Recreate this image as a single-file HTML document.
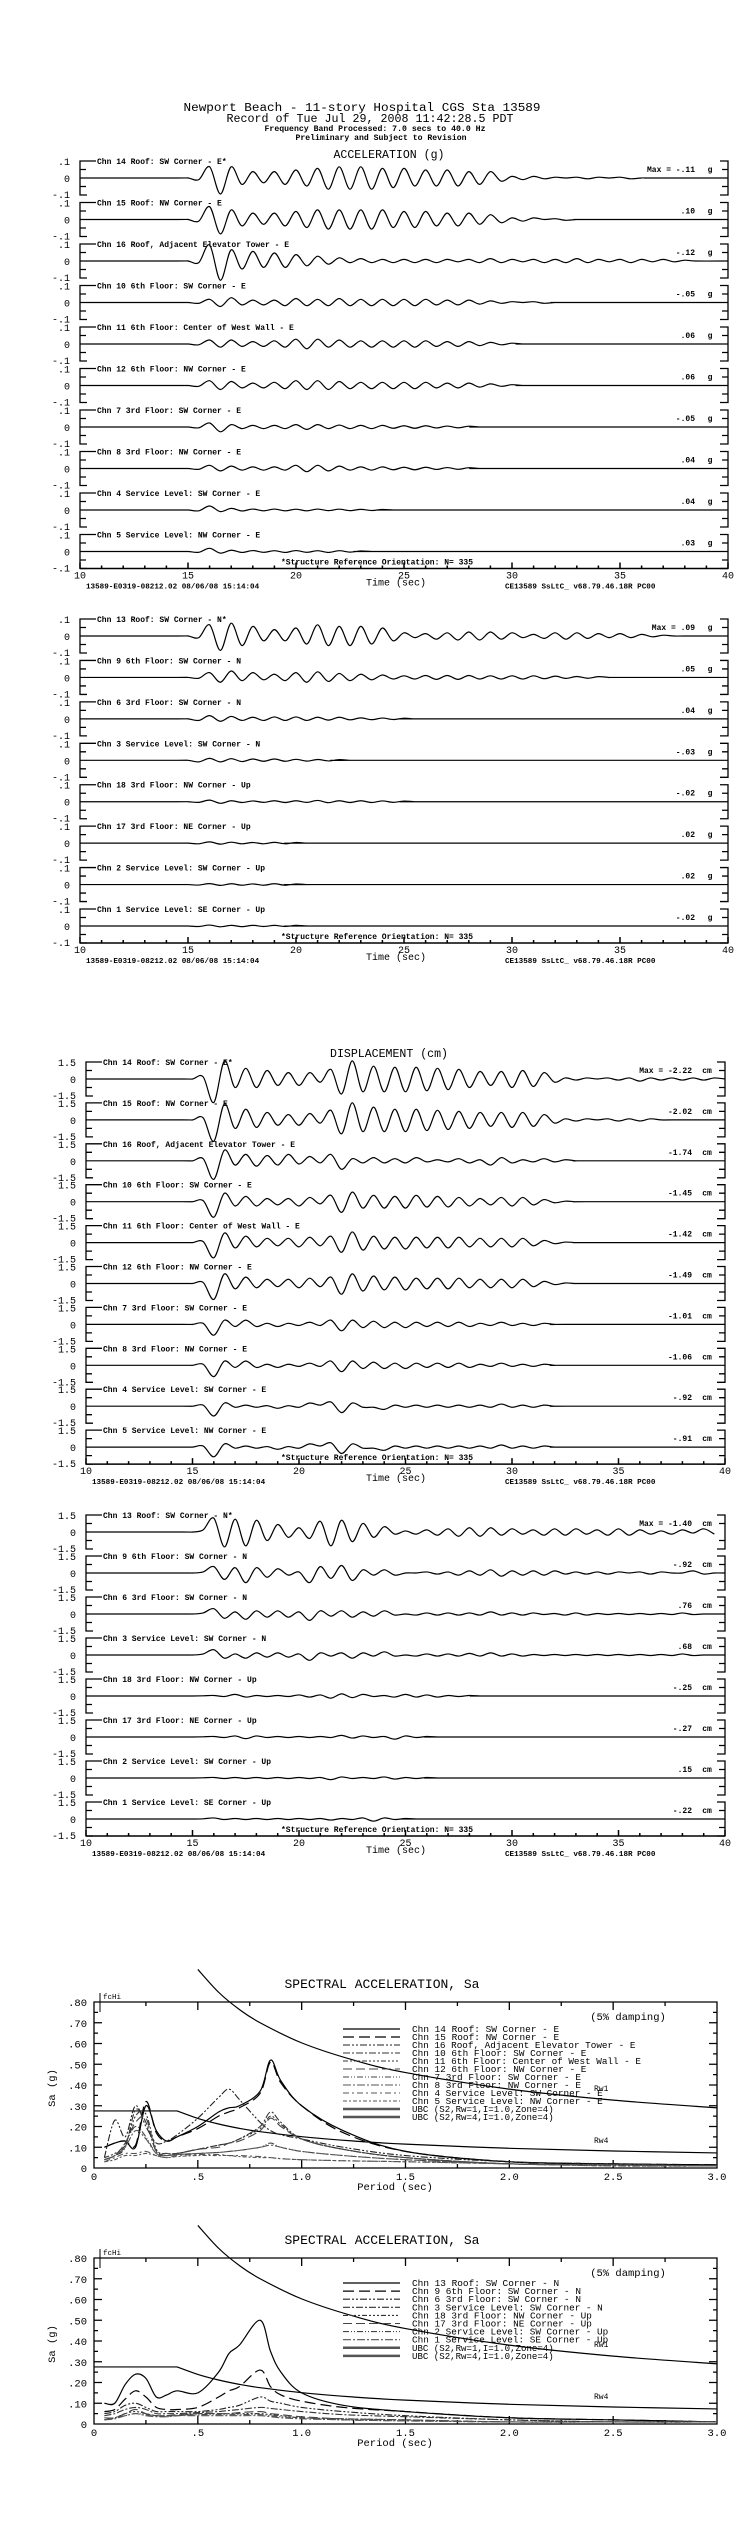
<!DOCTYPE html>
<html><head><meta charset="utf-8"><title>Newport Beach 11-story Hospital CGS Sta 13589</title>
<style>
html,body{margin:0;padding:0;background:#fff;}
svg{display:block;}
text{font-family:"Liberation Mono",monospace;fill:#000;}
</style></head>
<body>
<svg id="chart" width="748" height="2534" viewBox="0 0 748 2534" xmlns="http://www.w3.org/2000/svg">
<g>
<text x="362" y="111" text-anchor="middle" font-size="11.5" textLength="357" lengthAdjust="spacingAndGlyphs">Newport Beach - 11-story Hospital      CGS Sta 13589</text>
<text x="370" y="122" text-anchor="middle" font-size="11.5" textLength="287" lengthAdjust="spacingAndGlyphs">Record of Tue Jul 29, 2008 11:42:28.5 PDT</text>
<text x="375" y="131" text-anchor="middle" font-size="8" font-weight="bold" textLength="221" lengthAdjust="spacingAndGlyphs">Frequency Band Processed: 7.0 secs to 40.0 Hz</text>
<text x="381" y="140" text-anchor="middle" font-size="8" font-weight="bold" textLength="171" lengthAdjust="spacingAndGlyphs">Preliminary and Subject to Revision</text>
<text x="389" y="158" text-anchor="middle" font-size="11.5" textLength="111" lengthAdjust="spacingAndGlyphs">ACCELERATION (g)</text>
<text x="389" y="1057" text-anchor="middle" font-size="11.5" textLength="118" lengthAdjust="spacingAndGlyphs">DISPLACEMENT (cm)</text>
</g>
<g id="plots"></g>
</svg>
<script>
// ---------- time-history data (values every 0.5 s starting at t=15 s) ----------
const accTimeStart = 15, accStep = 0.5;
const acc1Labels = ["Chn 14  Roof: SW Corner - E*","Chn 15  Roof: NW Corner - E","Chn 16  Roof, Adjacent Elevator Tower - E","Chn 10  6th Floor: SW Corner - E","Chn 11  6th Floor: Center of West Wall - E","Chn 12  6th Floor: NW Corner - E","Chn 7  3rd Floor: SW Corner - E","Chn 8  3rd Floor: NW Corner - E","Chn 4  Service Level: SW Corner - E","Chn 5  Service Level: NW Corner - E"];
const acc1Max = ["-.11",".10","-.12","-.05",".06",".06","-.05",".04",".04",".03"];
const acc1c14 = [0,-0.01,0.07,-0.10,0.07,-0.04,0.04,-0.03,0.04,-0.04,0.05,-0.05,0.06,-0.07,0.07,-0.07,0.07,-0.07,0.06,-0.06,0.06,-0.05,0.05,-0.05,0.05,-0.05,0.04,-0.04,0.04,-0.02,0.01,-0.01,0.01,-0.005,0.005,0,0.005,-0.005,0.005,0,0.005,-0.005,0];
const acc1c15 = [0,-0.01,0.08,-0.09,0.06,-0.04,0.04,-0.03,0.04,-0.04,0.05,-0.05,0.06,-0.06,0.06,-0.06,0.06,-0.06,0.06,-0.05,0.05,-0.05,0.05,-0.04,0.04,-0.04,0.04,-0.03,0.03,-0.02,0.01,-0.01,0.01,0,0.005,-0.005,0];
const acc1c16 = [0,-0.01,0.10,-0.12,0.07,-0.05,0.06,-0.04,0.05,-0.04,0.04,-0.03,0.03,-0.02,0.02,-0.01,0.015,-0.01,0.01,-0.01,0.01,-0.01,0.01,-0.01,0.01,-0.005,0.01,-0.01,0.015,-0.01,0.01,-0.005,0.01,-0.01,0.01,-0.01,0.015,-0.01,0.01,-0.005,0.01,-0.01,0.01,-0.005,0.01,-0.005,0.005];
const acc1c10 = [0,-0.005,0.02,-0.025,0.03,-0.015,0.015,-0.015,0.015,-0.02,0.025,-0.02,0.02,-0.02,0.025,-0.02,0.02,-0.02,0.02,-0.02,0.02,-0.02,0.02,-0.015,0.015,-0.015,0.015,-0.01,0.01,-0.005,0.005,0,0.005,-0.005,0];
const acc1c11 = [0,-0.005,0.025,-0.02,0.025,-0.015,0.015,-0.015,0.02,-0.02,0.03,-0.03,0.03,-0.02,0.025,-0.02,0.02,-0.02,0.02,-0.02,0.02,-0.02,0.02,-0.015,0.015,-0.015,0.015,-0.01,0.01,-0.005,0.005,0];
const acc1c12 = [0,-0.005,0.03,-0.025,0.025,-0.015,0.015,-0.015,0.02,-0.02,0.03,-0.025,0.03,-0.025,0.025,-0.02,0.02,-0.02,0.02,-0.02,0.02,-0.02,0.02,-0.015,0.015,-0.015,0.015,-0.01,0.01,-0.005,0.005,0];
const acc1c7 = [0,-0.005,0.025,-0.03,0.015,-0.01,0.01,-0.01,0.01,-0.01,0.015,-0.015,0.015,-0.01,0.012,-0.01,0.01,-0.01,0.01,-0.008,0.008,-0.008,0.008,-0.006,0.006,-0.005,0.005,0];
const acc1c8 = [0,-0.005,0.02,-0.015,0.015,-0.01,0.01,-0.01,0.01,-0.01,0.02,-0.02,0.02,-0.015,0.015,-0.01,0.01,-0.01,0.01,-0.008,0.008,-0.008,0.008,-0.006,0.006,-0.005,0.005,0];
const acc1c4 = [0,-0.005,0.025,-0.01,0.01,-0.006,0.006,-0.005,0.006,-0.005,0.005,-0.005,0.006,-0.004,0.005,-0.004,0.004,-0.003,0.003,0];
const acc1c5 = [0,-0.005,0.02,-0.01,0.008,-0.006,0.006,-0.005,0.005,-0.006,0.006,-0.005,0.005,-0.006,0.005,-0.004,0.003,0];

const acc2Labels = ["Chn 13  Roof: SW Corner - N*","Chn 9  6th Floor: SW Corner - N","Chn 6  3rd Floor: SW Corner - N","Chn 3  Service Level: SW Corner - N","Chn 18  3rd Floor: NW Corner - Up","Chn 17  3rd Floor: NE Corner - Up","Chn 2  Service Level: SW Corner - Up","Chn 1  Service Level: SE Corner - Up"];
const acc2Max = [".09",".05",".04","-.03","-.02",".02",".02","-.02"];
const acc2c13 = [0,-0.01,0.07,-0.09,0.08,-0.06,0.06,-0.03,0.04,-0.03,0.05,-0.05,0.07,-0.06,0.06,-0.06,0.06,-0.05,0.05,-0.03,0.02,-0.01,0.015,-0.02,0.02,-0.025,0.025,-0.025,0.025,-0.02,0.02,-0.01,0.01,-0.015,0.02,-0.02,0.02,-0.015,0.015,-0.01,0.015,-0.01,0.01,-0.005,0.005,0];
const acc2c9 = [0,-0.005,0.03,-0.03,0.04,-0.02,0.03,-0.015,0.02,-0.02,0.03,-0.03,0.035,-0.025,0.025,-0.02,0.02,-0.015,0.015,-0.01,0.01,-0.01,0.012,-0.012,0.012,-0.012,0.012,-0.01,0.01,-0.01,0.01,-0.01,0.01,-0.008,0.008,-0.006,0.006,-0.005,0.005,0];
const acc2c6 = [0,-0.01,0.02,-0.015,0.015,-0.01,0.01,-0.01,0.012,-0.01,0.012,-0.01,0.01,-0.008,0.01,-0.006,0.006,-0.005,0.005,-0.004,0.004,0];
const acc2c3 = [0,-0.01,0.012,-0.01,0.01,-0.008,0.008,-0.006,0.008,-0.006,0.006,-0.005,0.005,-0.004,0.004,0];
const acc2c18 = [0,-0.004,0.01,-0.01,0.006,-0.005,0.005,-0.004,0.006,-0.005,0.006,-0.004,0.008,-0.006,0.006,-0.005,0.006,-0.005,0.005,-0.004,0.004,0];
const acc2c17 = [0,-0.004,0.008,-0.006,0.006,-0.004,0.004,-0.004,0.005,-0.004,0.004,0];
const acc2c2 = [0,-0.003,0.006,-0.005,0.005,-0.004,0.004,-0.004,0.005,-0.004,0.004,0];
const acc2c1 = [0,-0.003,0.006,-0.005,0.004,-0.004,0.004,-0.003,0.004,-0.003,0.004,0];

const dis1Max = ["-2.22","-2.02","-1.74","-1.45","-1.42","-1.49","-1.01","-1.06","-.92","-.91"];
const dis1c14 = [0,0.2,-2.2,1.7,-0.8,1.0,-0.8,0.8,-0.6,0.6,-0.6,0.6,-0.3,0.9,-1.4,1.7,-1.2,1.2,-1.2,1.1,-1.2,1.1,-1.1,1.0,-1.0,0.9,-0.8,0.7,-0.6,0.7,-0.8,0.8,-0.7,0.6,-0.3,0.1,-0.1,0.1,0,0.1,-0.1,0.1,-0.2,0.1,-0.1,0.1,-0.1,0.1,-0.1,0.1,0];
const dis1c15 = [0,0.2,-2.0,1.5,-0.8,1.0,-0.7,0.7,-0.5,0.5,-0.5,0.6,-0.3,0.9,-1.3,1.6,-1.1,1.2,-1.1,1.0,-1.1,1.0,-1.0,0.9,-0.9,0.8,-0.8,0.7,-0.6,0.7,-0.7,0.7,-0.6,0.5,-0.3,0.1,-0.1,0.1,0,0.1,-0.1,0.1,-0.1,0.1,0];
const dis1c16 = [0,0.2,-1.74,1.0,-0.4,0.6,-0.5,0.5,-0.4,0.6,-0.3,0.4,-0.2,0.6,-0.8,0.2,-0.2,0.3,-0.2,0.2,-0.2,0.3,-0.1,0.1,-0.1,0.2,-0.2,0.1,-0.4,0.3,-0.2,0.1,-0.1,0.2,-0.1,0.1,0];
const dis1c10 = [0,0.1,-1.45,0.8,-0.4,0.5,-0.4,0.3,-0.3,0.3,-0.4,0.4,-0.2,0.6,-1.0,0.9,-0.6,0.6,-0.6,0.5,-0.6,0.6,-0.5,0.5,-0.5,0.4,-0.4,0.3,-0.3,0.4,-0.4,0.4,-0.3,0.2,-0.1,0.05,0];
const dis1c11 = [0,0.1,-1.42,0.9,-0.5,0.6,-0.4,0.4,-0.3,0.4,-0.4,0.5,-0.3,0.6,-0.9,1.0,-0.7,0.6,-0.6,0.5,-0.6,0.5,-0.5,0.5,-0.5,0.5,-0.4,0.4,-0.4,0.4,-0.4,0.4,-0.3,0.2,-0.1,0.05,0];
const dis1c12 = [0,0.1,-1.49,0.9,-0.5,0.6,-0.4,0.4,-0.3,0.4,-0.4,0.5,-0.3,0.6,-1.0,0.9,-0.7,0.7,-0.6,0.6,-0.6,0.5,-0.5,0.5,-0.5,0.5,-0.4,0.4,-0.4,0.4,-0.4,0.4,-0.3,0.2,-0.1,0.05,0];
const dis1c7 = [0,0.1,-1.01,0.4,-0.2,0.4,-0.2,0.1,-0.2,0.1,-0.1,0.2,-0.1,0.4,-0.6,0.4,-0.3,0.3,-0.3,0.2,-0.3,0.2,-0.2,0.2,-0.2,0.2,-0.2,0.1,-0.1,0.2,-0.1,0.1,-0.1,0.1,0];
const dis1c8 = [0,0.1,-1.06,0.4,-0.2,0.4,-0.2,0.1,-0.2,0.1,-0.1,0.2,-0.1,0.4,-0.6,0.4,-0.3,0.3,-0.3,0.2,-0.3,0.2,-0.2,0.2,-0.2,0.2,-0.2,0.1,-0.1,0.2,-0.1,0.1,-0.1,0.1,0];
const dis1c4 = [0,0.1,-0.92,0.3,-0.1,0.1,-0.1,0.05,-0.2,0.05,-0.1,0.3,0.1,0.4,-0.6,0.3,-0.1,-0.1,-0.3,0.1,-0.1,0.1,-0.1,0.1,-0.1,0.1,-0.1,0.1,-0.1,0.2,-0.1,0.1,-0.1,0.1,0];
const dis1c5 = [0,0.1,-0.91,0.3,-0.1,0.1,-0.1,0.05,-0.2,0.05,-0.1,0.3,0.1,0.4,-0.6,0.3,-0.1,-0.1,-0.3,0.1,-0.1,0.1,-0.1,0.1,-0.1,0.1,-0.1,0.1,-0.1,0.2,-0.1,0.1,-0.1,0.1,0];

const dis2Max = ["-1.40","-.92",".76",".68","-.25","-.27",".15","-.22"];
const dis2c13 = [0,0.2,1.3,-1.4,1.2,-1.3,1.1,-0.8,0.7,-0.5,0.4,-0.6,1.0,-1.3,1.1,-0.9,0.8,-0.5,0.5,-0.2,0.1,-0.2,0.2,-0.3,0.3,-0.4,0.4,-0.4,0.4,-0.3,0.3,-0.2,0.2,-0.3,0.3,-0.3,0.3,-0.2,0.2,-0.3,0.3,-0.3,0.2,-0.2,0.1,-0.2,0.2,-0.1,0.3,-0.2];
const dis2c9 = [0,0.1,0.6,-0.6,0.5,-0.9,0.5,-0.4,0.4,-0.2,0.1,-0.9,0.6,-0.5,0.7,-0.7,0.3,-0.2,0.3,-0.2,0,0,0.1,-0.1,0.1,-0.2,0.2,-0.2,0.3,-0.3,0.2,-0.2,0.2,-0.2,0.2,-0.1,0.1,-0.1,0.1,-0.1,0.1,0,0.1,-0.1,0.1,0,0,0.2,-0.1];
const dis2c6 = [0,0.1,0.5,-0.4,0.2,-0.5,0.3,-0.3,0.3,-0.3,0.2,-0.6,0.3,-0.2,0.3,-0.3,0.2,-0.2,0.3,-0.1,0,-0.1,0.1,-0.1,0.1,-0.1,0.1,-0.1,0.2,-0.1,0.1,-0.1,0.1,-0.05,0.05,-0.1,0.1,-0.1,0.05,-0.05,0.05,-0.05,0.05,-0.05,0.05,-0.05,0.1,-0.05];
const dis2c3 = [0,0.1,0.5,-0.3,0.1,-0.3,0.2,-0.2,0.2,-0.2,0.1,-0.5,0.2,-0.1,0.2,-0.3,0.2,-0.1,0.3,-0.1,0,-0.1,0.1,-0.1,0.1,-0.1,0.15,-0.1,0.2,-0.1,0.1,-0.1,0.05,-0.05,0.05,-0.05,0.05,-0.05,0.05,-0.05,0.05,-0.05,0.05,-0.05,0.05,-0.05,0.1,-0.05];
const dis2c18 = [0,0.02,0.05,-0.05,0.15,-0.1,0.05,-0.05,0.05,-0.05,0.1,-0.1,0.1,-0.2,0.2,-0.15,0.15,-0.05,0.05,-0.1,0.15,-0.1,0.1,-0.1,0.05,-0.05,0.05,0];
const dis2c17 = [0,0.02,0.05,-0.05,0.1,-0.15,0.1,-0.05,0.05,-0.05,0.05,-0.05,0.05,-0.05,0.15,-0.1,0.1,-0.05,0.05,-0.2,0.1,-0.05,0.05,0];
const dis2c2 = [0,0.02,0.05,-0.05,0.05,-0.05,0.05,-0.05,0.05,-0.05,0.05,-0.05,0.05,-0.15,0.1,-0.05,0.05,-0.05,0.1,-0.1,0.05,-0.05,0.05,0];
const dis2c1 = [0,0.02,0.1,-0.05,0.05,-0.05,0.05,-0.05,0.05,-0.05,0.05,-0.05,0.05,-0.1,0.05,-0.05,0.1,-0.2,0.1,-0.05,0.05,0];

const timeTicks = [10,15,20,25,30,35,40];

// ---------- spectral data ----------
const specPeriods = [0.05,0.1,0.15,0.2,0.25,0.3,0.35,0.4,0.5,0.6,0.65,0.7,0.8,0.85,0.9,1.0,1.2,1.5,2.0,2.5,3.0];
const spec1c14 = [0.10,0.12,0.13,0.10,0.30,0.18,0.13,0.15,0.20,0.27,0.29,0.30,0.37,0.52,0.42,0.30,0.18,0.08,0.03,0.02,0.015];
const spec1c15 = [0.10,0.12,0.13,0.11,0.32,0.17,0.13,0.15,0.19,0.25,0.27,0.29,0.36,0.51,0.41,0.30,0.17,0.08,0.03,0.02,0.015];
const spec1c16 = [0.05,0.23,0.15,0.30,0.20,0.12,0.13,0.16,0.24,0.34,0.38,0.33,0.22,0.18,0.16,0.14,0.10,0.06,0.03,0.02,0.01];
const spec1c10 = [0.04,0.06,0.10,0.28,0.22,0.08,0.07,0.07,0.09,0.11,0.12,0.14,0.20,0.27,0.22,0.14,0.09,0.05,0.02,0.015,0.01];
const spec1c11 = [0.05,0.07,0.11,0.25,0.26,0.09,0.07,0.07,0.09,0.11,0.12,0.14,0.19,0.25,0.21,0.14,0.09,0.05,0.02,0.015,0.01];
const spec1c12 = [0.04,0.06,0.12,0.22,0.24,0.08,0.07,0.07,0.09,0.10,0.12,0.13,0.18,0.24,0.20,0.14,0.09,0.05,0.02,0.015,0.01];
const spec1c7 = [0.04,0.06,0.12,0.20,0.15,0.07,0.06,0.065,0.07,0.075,0.08,0.085,0.10,0.12,0.10,0.08,0.06,0.04,0.02,0.015,0.01];
const spec1c8 = [0.04,0.06,0.10,0.18,0.14,0.07,0.06,0.065,0.07,0.075,0.08,0.085,0.10,0.11,0.10,0.08,0.06,0.04,0.02,0.015,0.01];
const spec1c4 = [0.03,0.05,0.07,0.07,0.08,0.06,0.05,0.06,0.065,0.065,0.06,0.06,0.055,0.05,0.045,0.04,0.035,0.03,0.02,0.01,0.01];
const spec1c5 = [0.03,0.04,0.06,0.06,0.07,0.06,0.05,0.055,0.06,0.06,0.06,0.055,0.05,0.05,0.045,0.04,0.035,0.03,0.02,0.01,0.01];
const spec2c13 = [0.10,0.10,0.19,0.24,0.22,0.13,0.14,0.16,0.15,0.25,0.34,0.38,0.50,0.35,0.25,0.15,0.09,0.06,0.03,0.02,0.01];
const spec2c9 = [0.06,0.07,0.12,0.16,0.13,0.08,0.07,0.07,0.08,0.13,0.16,0.18,0.26,0.18,0.14,0.11,0.08,0.06,0.03,0.02,0.01];
const spec2c6 = [0.05,0.06,0.09,0.10,0.08,0.06,0.06,0.06,0.06,0.07,0.08,0.09,0.13,0.11,0.10,0.08,0.06,0.04,0.02,0.01,0.01];
const spec2c3 = [0.04,0.05,0.07,0.08,0.07,0.05,0.05,0.05,0.055,0.06,0.065,0.07,0.08,0.075,0.07,0.06,0.045,0.035,0.02,0.01,0.01];
const spec2c18 = [0.02,0.03,0.05,0.06,0.05,0.04,0.04,0.04,0.05,0.05,0.05,0.05,0.05,0.045,0.04,0.03,0.025,0.02,0.01,0.01,0.01];
const spec2c17 = [0.03,0.03,0.05,0.07,0.05,0.04,0.04,0.045,0.05,0.05,0.05,0.055,0.06,0.05,0.045,0.035,0.025,0.02,0.01,0.01,0.01];
const spec2c2 = [0.02,0.03,0.04,0.05,0.045,0.04,0.035,0.04,0.045,0.045,0.045,0.045,0.045,0.04,0.035,0.03,0.02,0.015,0.01,0.01,0.01];
const spec2c1 = [0.02,0.025,0.04,0.05,0.04,0.035,0.035,0.04,0.04,0.04,0.04,0.04,0.04,0.035,0.03,0.025,0.02,0.015,0.01,0.01,0.01];
const ubcPeriods = [0.0,0.4,0.5,0.6,0.7,0.8,1.0,1.25,1.5,2.0,2.5,3.0];
const ubcRw1 = [null,null,0.957,0.847,0.764,0.70,0.603,0.52,0.46,0.38,0.327,0.29];
const ubcRw4 = [0.275,0.275,0.239,0.212,0.191,0.175,0.151,0.13,0.115,0.095,0.082,0.0725];
const spec1Legend = ["Chn 14  Roof: SW Corner - E","Chn 15  Roof: NW Corner - E","Chn 16  Roof, Adjacent Elevator Tower - E","Chn 10  6th Floor: SW Corner - E","Chn 11  6th Floor: Center of West Wall - E","Chn 12  6th Floor: NW Corner - E","Chn 7  3rd Floor: SW Corner - E","Chn 8  3rd Floor: NW Corner - E","Chn 4  Service Level: SW Corner - E","Chn 5  Service Level: NW Corner - E","UBC (S2,Rw=1,I=1.0,Zone=4)","UBC (S2,Rw=4,I=1.0,Zone=4)"];
const spec2Legend = ["Chn 13  Roof: SW Corner - N","Chn 9  6th Floor: SW Corner - N","Chn 6  3rd Floor: SW Corner - N","Chn 3  Service Level: SW Corner - N","Chn 18  3rd Floor: NW Corner - Up","Chn 17  3rd Floor: NE Corner - Up","Chn 2  Service Level: SW Corner - Up","Chn 1  Service Level: SE Corner - Up","UBC (S2,Rw=1,I=1.0,Zone=4)","UBC (S2,Rw=4,I=1.0,Zone=4)"];
const saTicks = [0,0.1,0.2,0.3,0.4,0.5,0.6,0.7,0.8];
const saTickLabels = ["0",".10",".20",".30",".40",".50",".60",".70",".80"];
const periodTicks = [0,0.5,1.0,1.5,2.0,2.5,3.0];
const periodTickLabels = ["0",".5","1.0","1.5","2.0","2.5","3.0"];

// ---------- drawing ----------
const NS = "http://www.w3.org/2000/svg";
const root = document.getElementById("plots");
function mk(tag, attrs, parent) {
  const e = document.createElementNS(NS, tag);
  for (const k in attrs) e.setAttribute(k, attrs[k]);
  (parent || root).appendChild(e);
  return e;
}
function txt(str, x, y, size, anchor, parent) {
  const t = mk("text", {x: x, y: y, "font-size": size, "text-anchor": anchor || "start"}, parent);
  t.textContent = str;
  return t;
}
function smoothPath(pts) {
  let d = "M" + pts[0][0].toFixed(2) + "," + pts[0][1].toFixed(2);
  for (let i = 0; i < pts.length - 1; i++) {
    const p0 = pts[Math.max(0, i - 1)], p1 = pts[i], p2 = pts[i + 1], p3 = pts[Math.min(pts.length - 1, i + 2)];
    const c1x = p1[0] + (p2[0] - p0[0]) / 6, c1y = p1[1] + (p2[1] - p0[1]) / 6;
    const c2x = p2[0] - (p3[0] - p1[0]) / 6, c2y = p2[1] - (p3[1] - p1[1]) / 6;
    d += " C" + c1x.toFixed(2) + "," + c1y.toFixed(2) + " " + c2x.toFixed(2) + "," + c2y.toFixed(2) + " " + p2[0].toFixed(2) + "," + p2[1].toFixed(2);
  }
  return d;
}

function drawPanel(cfg) {
  const g = mk("g", {});
  
  
  const xOf = t => cfg.x0 + (t - 10) * (cfg.x1 - cfg.x0) / 30;
  const H = 17;
  cfg.series.forEach((vals, i) => {
    const z = cfg.z0 + i * cfg.dz;
    const tg = mk("g", {}, g);
    
    
    // brackets
    const br = mk("path", {d:
      "M" + (cfg.x0 + 16) + "," + (z - H) + " H" + cfg.x0 + " V" + (z + H) + " H" + (cfg.x0 + 7) +
      " M" + cfg.x0 + "," + (z - H / 2) + " h6 M" + cfg.x0 + "," + (z + H / 2) + " h6" +
      " M" + (cfg.x1 - 8) + "," + (z - H) + " H" + cfg.x1 + " V" + (z + H) + " H" + (cfg.x1 - 8) +
      " M" + cfg.x1 + "," + (z - H / 2) + " h-6 M" + cfg.x1 + "," + (z + H / 2) + " h-6",
      fill: "none", stroke: "#000", "stroke-width": 1.3}, tg);
    
    
    // y labels
    const l1 = txt(cfg.yTop, cfg.yLabX, z - H + 4, 10, "end", tg);
    
    
    const l2 = txt("0", cfg.yLabX, z + 4, 10, "end", tg);
    
    
    const l3 = txt(cfg.yBot, cfg.yLabX, z + H + 3, 10, "end", tg);
    
    
    // channel label
    const cl = txt(cfg.labels[i], cfg.x0 + 17, z - H + 3, 8, "start", tg);
    
    
    cl.setAttribute('font-weight', 'bold');
    const mx = txt((i === 0 ? "Max =  " : "") + cfg.maxes[i], cfg.x1 - 33, z - H + 11, 8, "end", tg);
    
    
    mx.setAttribute('font-weight', 'bold');
    const un = txt(cfg.unit, cfg.x1 - 18, z - H + 11, 8, "middle", tg);
    
    
    un.setAttribute('font-weight', 'bold');
    // waveform
    const pts = [[xOf(10), z], [xOf(accTimeStart - 0.5), z]];
    vals.forEach((v, k) => {
      const t = accTimeStart + k * accStep;
      pts.push([xOf(t), z - v * cfg.scale]);
    });
    const tEnd = accTimeStart + vals.length * accStep;
    if (tEnd < 40) pts.push([xOf(tEnd), z], [xOf(40), z]);
    const wp = mk("path", {d: smoothPath(pts), fill: "none", stroke: "#000", "stroke-width": 1.2}, tg);
    
    
  });
  // time axis
  const zl = cfg.z0 + (cfg.series.length - 1) * cfg.dz;
  const ay = zl + H;
  let d = "M" + cfg.x0 + "," + ay + " H" + cfg.x1;
  for (let t = 10; t <= 40; t++) d += " M" + xOf(t) + "," + ay + " v" + (t % 5 === 0 ? -6 : -3);
  const ax = mk("path", {d: d, fill: "none", stroke: "#000", "stroke-width": 1.5}, g);
  
  
  timeTicks.forEach(t => {
    const tl = txt(String(t), xOf(t), ay + 10, 10, "middle", g);
    
    
  });
  const so = txt("*Structure Reference Orientation: N= 335", 377, ay - 4, 8, "middle", g);
  
  
  so.setAttribute('font-weight', 'bold');
  const tt = txt("Time (sec)", 396, ay + 17, 10, "middle", g);
  
  
  const f1 = txt("13589-E0319-08212.02 08/06/08 15:14:04", cfg.x0 + 6, ay + 20, 7.6, "start", g);
  
  
  f1.setAttribute('font-weight', 'bold');
  const f2 = txt("CE13589  SsLtC_  v68.79.46.18R PC00", 505, ay + 20, 7.6, "start", g);
  
  
  f2.setAttribute('font-weight', 'bold');
}

drawPanel({name: "acceleration-panel-east", key: "acc-e", x0: 80, x1: 728, z0: 178, dz: 41.5, scale: 160, yTop: ".1", yBot: "-.1", yLabX: 70, unit: "g",
  labels: acc1Labels, maxes: acc1Max, series: [acc1c14, acc1c15, acc1c16, acc1c10, acc1c11, acc1c12, acc1c7, acc1c8, acc1c4, acc1c5]});
drawPanel({name: "acceleration-panel-north-up", key: "acc-n", x0: 80, x1: 728, z0: 636, dz: 41.43, scale: 160, yTop: ".1", yBot: "-.1", yLabX: 70, unit: "g",
  labels: acc2Labels, maxes: acc2Max, series: [acc2c13, acc2c9, acc2c6, acc2c3, acc2c18, acc2c17, acc2c2, acc2c1]});
drawPanel({name: "displacement-panel-east", key: "dis-e", x0: 86, x1: 725, z0: 1079, dz: 40.9, scale: 16 / 1.5, yTop: "1.5", yBot: "-1.5", yLabX: 76, unit: "cm",
  labels: acc1Labels, maxes: dis1Max, series: [dis1c14, dis1c15, dis1c16, dis1c10, dis1c11, dis1c12, dis1c7, dis1c8, dis1c4, dis1c5]});
drawPanel({name: "displacement-panel-north-up", key: "dis-n", x0: 86, x1: 725, z0: 1532, dz: 41, scale: 16 / 1.5, yTop: "1.5", yBot: "-1.5", yLabX: 76, unit: "cm",
  labels: acc2Labels, maxes: dis2Max, series: [dis2c13, dis2c9, dis2c6, dis2c3, dis2c18, dis2c17, dis2c2, dis2c1]});

const styles = [
  {dash: "", w: 1.2, c: "#000"},
  {dash: "11,5", w: 1.2, c: "#000"},
  {dash: "7,2,2,2,2,2", w: 1.1, c: "#222"},
  {dash: "7,2,2,2", w: 1.1, c: "#333"},
  {dash: "5,2,2,2,2,2,2,2", w: 1.1, c: "#333"},
  {dash: "9,4", w: 1.1, c: "#444"},
  {dash: "6,2,1,2,1,2", w: 1.1, c: "#444"},
  {dash: "8,2,2,2", w: 1.1, c: "#555"},
  {dash: "6,3,2,3", w: 1.1, c: "#555"},
  {dash: "4,2,2,2", w: 1.1, c: "#555"}
];

function drawSpectrum(cfg) {
  const g = mk("g", {});
  
  
  const X0 = 94, X1 = 717, Y0 = cfg.y0, PX = 207.5;
  const xs = T => X0 + T * (X1 - X0) / 3;
  const ys = v => Y0 - v * PX;
  const ttl = txt("SPECTRAL ACCELERATION, Sa", 382, Y0 - 180, 13, "middle", g);
  
  
  ttl.setAttribute('textLength', '195');
  ttl.setAttribute('lengthAdjust', 'spacingAndGlyphs');
  // frame
  let d = "M" + X0 + "," + ys(0.8) + " H" + X1 + " V" + Y0 + " H" + X0 + " Z";
  for (let v = 0.05; v < 0.8; v += 0.05) {
    const L = Math.abs(v * 10 - Math.round(v * 10)) < 0.01 ? 8 : 4;
    d += " M" + X0 + "," + ys(v) + " h" + L + " M" + X1 + "," + ys(v) + " h-" + L;
  }
  for (let T = 0.25; T < 3; T += 0.25) {
    const L = Math.abs(T * 2 - Math.round(T * 2)) < 0.01 ? 8 : 4;
    d += " M" + xs(T) + "," + Y0 + " v-" + L + " M" + xs(T) + "," + ys(0.8) + " v" + L;
  }
  const fr = mk("path", {d: d, fill: "none", stroke: "#000", "stroke-width": 1.3}, g);
  
  
  saTicks.forEach((v, i) => {
    const t = txt(saTickLabels[i], 87, ys(v) + 4, 10.5, "end", g);
    
    
  });
  periodTicks.forEach((T, i) => {
    const t = txt(periodTickLabels[i], xs(T), Y0 + 12, 10.5, "middle", g);
    
    
  });
  const xt = txt("Period (sec)", 395, Y0 + 22, 10.5, "middle", g);
  
  
  const yt = txt("Sa  (g)", 0, 0, 10.5, "middle", g);
  
  
  yt.setAttribute('transform', 'translate(55,' + (Y0 - 80) + ') rotate(-90)');
  const fc = mk("path", {d: "M100," + (Y0 - 175) + " V" + (Y0 - 156), stroke: "#000", "stroke-width": 1, fill: "none"}, g);
  
  
  const fct = txt("fcHi", 103, Y0 - 169, 7.5, "start", g);
  
  
  const dm = txt("(5% damping)", 628, Y0 - 148, 10.5, "middle", g);
  
  
  // UBC curves
  const rw1pts = [], rw4pts = [];
  ubcPeriods.forEach((T, i) => {
    if (ubcRw1[i] !== null) rw1pts.push([xs(T), ys(ubcRw1[i])]);
    rw4pts.push([xs(T), ys(ubcRw4[i])]);
  });
  const u1 = mk("path", {d: smoothPath(rw1pts), fill: "none", stroke: "#000", "stroke-width": 1.2}, g);
  
  
  const rw4d = "M" + rw4pts[0][0] + "," + rw4pts[0][1] + " L" + rw4pts[1][0] + "," + rw4pts[1][1] + " " + smoothPath(rw4pts.slice(1)).replace("M", "L");
  const u4 = mk("path", {d: rw4d, fill: "none", stroke: "#000", "stroke-width": 1.2}, g);
  
  
  const r1 = txt("Rw1", 594, ys(0.37), 8, "start", g);
  
  
  const r4 = txt("Rw4", 594, ys(0.12), 8, "start", g);
  
  
  // channel spectra
  cfg.series.forEach((vals, i) => {
    const pts = specPeriods.map((T, k) => [xs(T), ys(vals[k])]);
    const st = styles[i];
    const p = mk("path", {d: smoothPath(pts), fill: "none", stroke: st.c, "stroke-width": st.w, "stroke-dasharray": st.dash}, g);
    
    
  });
  // legend
  cfg.legend.forEach((lab, i) => {
    const ly = cfg.legY + i * cfg.legDy;
    const isUbc = i >= cfg.series.length;
    const st = isUbc ? {dash: "", w: 2.5, c: "#555"} : styles[i];
    const ln = mk("line", {x1: 343, x2: 400, y1: ly, y2: ly, stroke: st.c, "stroke-width": st.w, "stroke-dasharray": st.dash}, g);
    
    
    const lt = txt(lab, 412, ly + 3, 9, "start", g);
    
    
    lt.setAttribute('textLength', String(lab.length * 5.45));
    lt.setAttribute('lengthAdjust', 'spacingAndGlyphs');
  });
}

drawSpectrum({name: "spectral-acceleration-east", y0: 2168, legY: 2029, legDy: 8, legend: spec1Legend,
  series: [spec1c14, spec1c15, spec1c16, spec1c10, spec1c11, spec1c12, spec1c7, spec1c8, spec1c4, spec1c5]});
drawSpectrum({name: "spectral-acceleration-north-up", y0: 2424, legY: 2283, legDy: 8.1, legend: spec2Legend,
  series: [spec2c13, spec2c9, spec2c6, spec2c3, spec2c18, spec2c17, spec2c2, spec2c1]});
</script>
</body></html>
